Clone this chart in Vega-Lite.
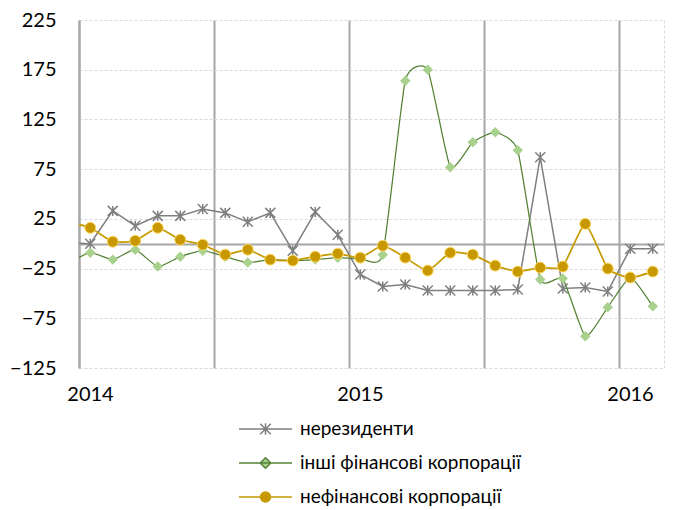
{
  "$schema": "https://vega.github.io/schema/vega-lite/v6.json",
  "width": 585,
  "height": 348,
  "autosize": {"type": "none"},
  "padding": {"left": 79, "top": 20, "right": 9, "bottom": 142},
  "config": {
    "font": "Lato",
    "view": {"stroke": null},
    "axis": {"title": null, "labelColor": "#000000", "labelFont": "Lato", "labelFontSize": 20, "ticks": false}
  },
  "data": {
    "values": [
      {"i": -1, "s": "нерезиденти", "v": 1},
      {"i": 0, "s": "нерезиденти", "v": 0},
      {"i": 1, "s": "нерезиденти", "v": 33},
      {"i": 2, "s": "нерезиденти", "v": 18},
      {"i": 3, "s": "нерезиденти", "v": 28},
      {"i": 4, "s": "нерезиденти", "v": 28},
      {"i": 5, "s": "нерезиденти", "v": 35},
      {"i": 6, "s": "нерезиденти", "v": 31},
      {"i": 7, "s": "нерезиденти", "v": 22},
      {"i": 8, "s": "нерезиденти", "v": 31},
      {"i": 9, "s": "нерезиденти", "v": -7},
      {"i": 10, "s": "нерезиденти", "v": 32},
      {"i": 11, "s": "нерезиденти", "v": 9},
      {"i": 12, "s": "нерезиденти", "v": -31},
      {"i": 13, "s": "нерезиденти", "v": -43},
      {"i": 14, "s": "нерезиденти", "v": -41},
      {"i": 15, "s": "нерезиденти", "v": -47},
      {"i": 16, "s": "нерезиденти", "v": -47},
      {"i": 17, "s": "нерезиденти", "v": -47},
      {"i": 18, "s": "нерезиденти", "v": -47},
      {"i": 19, "s": "нерезиденти", "v": -46},
      {"i": 20, "s": "нерезиденти", "v": 87},
      {"i": 21, "s": "нерезиденти", "v": -45},
      {"i": 22, "s": "нерезиденти", "v": -44},
      {"i": 23, "s": "нерезиденти", "v": -48},
      {"i": 24, "s": "нерезиденти", "v": -5},
      {"i": 25, "s": "нерезиденти", "v": -5},
      {"i": -1, "s": "інші фінансові корпорації", "v": -20},
      {"i": 0, "s": "інші фінансові корпорації", "v": -9},
      {"i": 1, "s": "інші фінансові корпорації", "v": -16},
      {"i": 2, "s": "інші фінансові корпорації", "v": -6},
      {"i": 3, "s": "інші фінансові корпорації", "v": -23},
      {"i": 4, "s": "інші фінансові корпорації", "v": -13},
      {"i": 5, "s": "інші фінансові корпорації", "v": -7},
      {"i": 6, "s": "інші фінансові корпорації", "v": -13},
      {"i": 7, "s": "інші фінансові корпорації", "v": -19},
      {"i": 8, "s": "інші фінансові корпорації", "v": -16},
      {"i": 9, "s": "інші фінансові корпорації", "v": -17},
      {"i": 10, "s": "інші фінансові корпорації", "v": -16},
      {"i": 11, "s": "інші фінансові корпорації", "v": -14},
      {"i": 12, "s": "інші фінансові корпорації", "v": -15},
      {"i": 13, "s": "інші фінансові корпорації", "v": -11},
      {"i": 14, "s": "інші фінансові корпорації", "v": 164},
      {"i": 15, "s": "інші фінансові корпорації", "v": 175},
      {"i": 16, "s": "інші фінансові корпорації", "v": 77},
      {"i": 17, "s": "інші фінансові корпорації", "v": 102},
      {"i": 18, "s": "інші фінансові корпорації", "v": 112},
      {"i": 19, "s": "інші фінансові корпорації", "v": 94},
      {"i": 20, "s": "інші фінансові корпорації", "v": -36},
      {"i": 21, "s": "інші фінансові корпорації", "v": -35},
      {"i": 22, "s": "інші фінансові корпорації", "v": -93},
      {"i": 23, "s": "інші фінансові корпорації", "v": -64},
      {"i": 24, "s": "інші фінансові корпорації", "v": -34},
      {"i": 25, "s": "інші фінансові корпорації", "v": -63},
      {"i": -1, "s": "нефінансові корпорації", "v": 22},
      {"i": 0, "s": "нефінансові корпорації", "v": 16},
      {"i": 1, "s": "нефінансові корпорації", "v": 2},
      {"i": 2, "s": "нефінансові корпорації", "v": 3},
      {"i": 3, "s": "нефінансові корпорації", "v": 16},
      {"i": 4, "s": "нефінансові корпорації", "v": 4},
      {"i": 5, "s": "нефінансові корпорації", "v": -1},
      {"i": 6, "s": "нефінансові корпорації", "v": -11},
      {"i": 7, "s": "нефінансові корпорації", "v": -6},
      {"i": 8, "s": "нефінансові корпорації", "v": -16},
      {"i": 9, "s": "нефінансові корпорації", "v": -17},
      {"i": 10, "s": "нефінансові корпорації", "v": -13},
      {"i": 11, "s": "нефінансові корпорації", "v": -10},
      {"i": 12, "s": "нефінансові корпорації", "v": -14},
      {"i": 13, "s": "нефінансові корпорації", "v": -2},
      {"i": 14, "s": "нефінансові корпорації", "v": -14},
      {"i": 15, "s": "нефінансові корпорації", "v": -27},
      {"i": 16, "s": "нефінансові корпорації", "v": -9},
      {"i": 17, "s": "нефінансові корпорації", "v": -11},
      {"i": 18, "s": "нефінансові корпорації", "v": -22},
      {"i": 19, "s": "нефінансові корпорації", "v": -28},
      {"i": 20, "s": "нефінансові корпорації", "v": -24},
      {"i": 21, "s": "нефінансові корпорації", "v": -23},
      {"i": 22, "s": "нефінансові корпорації", "v": 20},
      {"i": 23, "s": "нефінансові корпорації", "v": -25},
      {"i": 24, "s": "нефінансові корпорації", "v": -34},
      {"i": 25, "s": "нефінансові корпорації", "v": -28}
    ]
  },
  "encoding": {
    "x": {
      "field": "i", "type": "quantitative",
      "scale": {"domain": [-0.5, 25.5], "nice": false, "zero": false},
      "axis": {
        "values": [-0.5, 5.5, 11.5, 17.5, 23.5, 25.5],
        "domain": false,
        "grid": true,
        "gridColor": {"condition": {"test": "datum.value > 25", "value": "#D9D9D9"}, "value": "#A6A6A6"},
        "gridWidth": {"condition": {"test": "datum.value > 25", "value": 1}, "value": 2},
        "gridDash": {"condition": {"test": "datum.value > 25", "value": [3, 2]}, "value": []},
        "labelExpr": "datum.value === -0.5 ? '2014' : datum.value === 11.5 ? '2015' : datum.value === 23.5 ? '2016' : ''",
        "labelOffset": 11,
        "labelFlush": false,
        "labelOverlap": false,
        "labelBound": false,
        "labelPadding": 16
      }
    },
    "y": {
      "field": "v", "type": "quantitative",
      "scale": {"domain": [-125, 225], "nice": false, "zero": false},
      "axis": {
        "values": [-125, -75, -25, 0, 25, 75, 125, 175, 225],
        "labelExpr": "datum.value === 0 ? '' : datum.label",
        "domain": true,
        "domainColor": "#A6A6A6",
        "domainWidth": 2,
        "grid": true,
        "gridColor": {"condition": {"test": "datum.value === 0", "value": "#A6A6A6"}, "value": "#D9D9D9"},
        "gridWidth": {"condition": {"test": "datum.value === 0", "value": 2}, "value": 1},
        "gridDash": {"condition": {"test": "datum.value === 0", "value": []}, "value": [3, 2]},
        "labelPadding": 23,
        "labelOverlap": false
      }
    }
  },
  "layer": [
    {
      "transform": [{"filter": "datum.i < 0"}],
      "mark": {"type": "point", "clip": true, "filled": true, "strokeWidth": 1.5, "opacity": 1},
      "encoding": {
        "shape": {
          "field": "s", "type": "nominal",
          "scale": {
            "domain": ["нерезиденти", "інші фінансові корпорації", "нефінансові корпорації"],
            "range": [
              "M-1,0H1M-0.2,-0.2L0.2,0.2M-0.2,0.2L0.2,-0.2M0,-0.22V0.22",
              "M-1,0H1M0,-0.2L0.2,0L0,0.2L-0.2,0Z",
              "M-1,0H1M-0.19,0A0.19,0.19,0,1,0,0.19,0A0.19,0.19,0,1,0,-0.19,0Z"
            ]
          },
          "legend": {
            "title": null,
            "orient": "none",
            "legendX": 159,
            "legendY": 392,
            "direction": "vertical",
            "labelFont": "Lato",
            "labelFontSize": 19,
            "labelColor": "#000000",
            "labelLimit": 500,
            "symbolSize": 2809,
            "symbolStrokeWidth": 1.5,
            "clipHeight": 34,
            "rowPadding": 0,
            "labelOffset": 7
          }
        },
        "fill": {
          "field": "s", "type": "nominal",
          "scale": {
            "domain": ["нерезиденти", "інші фінансові корпорації", "нефінансові корпорації"],
            "range": ["transparent", "#A9D18E", "#C79800"]
          },
          "legend": {"title": null, "orient": "none", "legendX": 159, "legendY": 392, "labelLimit": 500}
        },
        "stroke": {
          "field": "s", "type": "nominal",
          "scale": {
            "domain": ["нерезиденти", "інші фінансові корпорації", "нефінансові корпорації"],
            "range": ["#7F7F7F", "#548235", "#C59B00"]
          },
          "legend": {"title": null, "orient": "none", "legendX": 159, "legendY": 392, "labelLimit": 500}
        }
      }
    },
    {
      "transform": [{"filter": "datum.s === 'нерезиденти'"}],
      "mark": {"type": "line", "clip": true, "strokeWidth": 1.5, "interpolate": "linear", "color": "#7F7F7F"}
    },
    {
      "transform": [{"filter": "datum.s === 'нерезиденти' && datum.i >= 0"}],
      "mark": {"type": "point", "clip": true, "shape": "M-1,-1L1,1M-1,1L1,-1M0,-1V1", "size": 100, "filled": false, "stroke": "#7F7F7F", "strokeWidth": 1.5, "opacity": 1}
    },
    {
      "transform": [{"filter": "datum.s === 'інші фінансові корпорації'"}],
      "mark": {"type": "line", "clip": true, "strokeWidth": 1.25, "interpolate": "cardinal", "tension": 0.5, "color": "#548235"}
    },
    {
      "transform": [{"filter": "datum.s === 'інші фінансові корпорації' && datum.i >= 0"}],
      "mark": {"type": "point", "clip": true, "shape": "diamond", "size": 110, "filled": true, "fill": "#A9D18E", "opacity": 1}
    },
    {
      "transform": [{"filter": "datum.s === 'нефінансові корпорації'"}],
      "mark": {"type": "line", "clip": true, "strokeWidth": 1.75, "interpolate": "cardinal", "tension": 0.5, "color": "#C59B00"}
    },
    {
      "transform": [{"filter": "datum.s === 'нефінансові корпорації' && datum.i >= 0"}],
      "mark": {"type": "point", "clip": true, "shape": "circle", "size": 120, "filled": true, "fill": "#C79800", "stroke": "#FFD966", "strokeWidth": 1, "opacity": 1}
    }
  ]
}
